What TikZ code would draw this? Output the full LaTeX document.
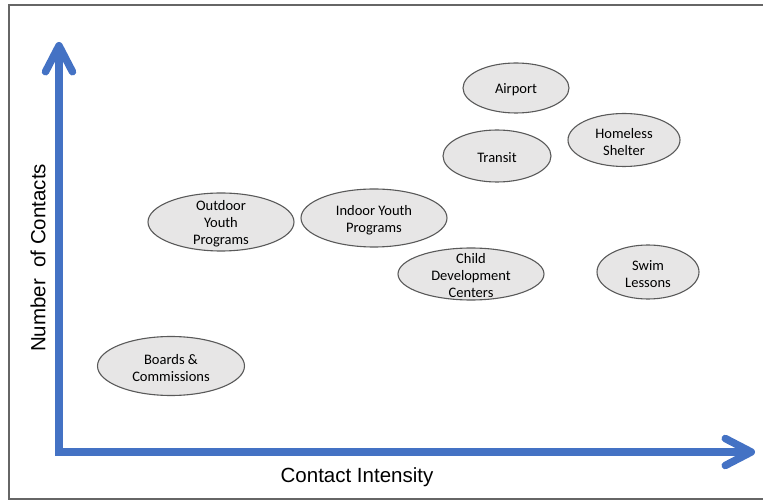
\documentclass[tikz,border=0pt]{standalone}
\usepackage{fontspec}
\setmainfont{Carlito}
\newfontfamily\axisfont{Liberation Sans}
\usepackage{tikz}
\usetikzlibrary{shapes.geometric,arrows.meta}
\definecolor{axisblue}{RGB}{68,114,196}
\definecolor{bubblefill}{RGB}{231,230,230}
\definecolor{bubbleline}{RGB}{89,89,89}

\begin{document}
\begin{tikzpicture}[x=1pt, y=-1pt,
  bubble/.style 2 args={ellipse, draw=bubbleline, line width=1.1pt, fill=bubblefill,
    minimum width=#1, minimum height=#2, inner sep=0pt},
  bubbletext/.style={align=center, inner sep=0pt, yshift=-2pt,
    font=\fontsize{14.5}{17}\selectfont},
  axis/.style={draw=axisblue, line width=7.5pt, line join=miter,
    {Straight Barb[length=26pt, width=27pt, round]}-{Straight Barb[length=26pt, width=27pt, round]}},
  axislabel/.style={font=\axisfont\fontsize{20.5}{24}\selectfont}]
\useasboundingbox (0,0) rectangle (763,502);

% Rahmen
\draw[line width=2pt, draw=gray!80!black] (9,5) rectangle (775,499);

% Achsen
\coordinate (origin) at (59,452);
\coordinate (ytip) at (59,42);
\coordinate (xtip) at (755,452);
\draw[axis] (ytip) -- (origin) -- (xtip);

\node[axislabel] (xlabel) at (357,477) {Contact Intensity};
\node[axislabel, rotate=90] (ylabel) at (38,258) {Number\ \ of Contacts};

% Bereiche
\node[bubble={106pt}{50pt}, label={[bubbletext]center:Airport}] (airport) at (516,88) {};
\node[bubble={108pt}{52pt}, label={[bubbletext]center:Transit}] (transit) at (497,156) {};
\node[bubble={112pt}{53pt}, label={[bubbletext]center:{Homeless\\Shelter}}] (shelter) at (624,140) {};
\node[bubble={146pt}{58pt}, label={[bubbletext]center:{Outdoor\\Youth\\Programs}}] (outdoor) at (221,222) {};
\node[bubble={146pt}{58pt}, label={[bubbletext]center:{Indoor Youth\\Programs}}] (indoor) at (374,218) {};
\node[bubble={146pt}{52pt}, label={[bubbletext]center:{Child\\Development\\Centers}}] (child) at (471,274) {};
\node[bubble={102pt}{54pt}, label={[bubbletext]center:{Swim\\Lessons}}] (swim) at (648,272) {};
\node[bubble={147pt}{59pt}, label={[bubbletext]center:{Boards \&\\Commissions}}] (boards) at (171,366) {};
\end{tikzpicture}
\end{document}
